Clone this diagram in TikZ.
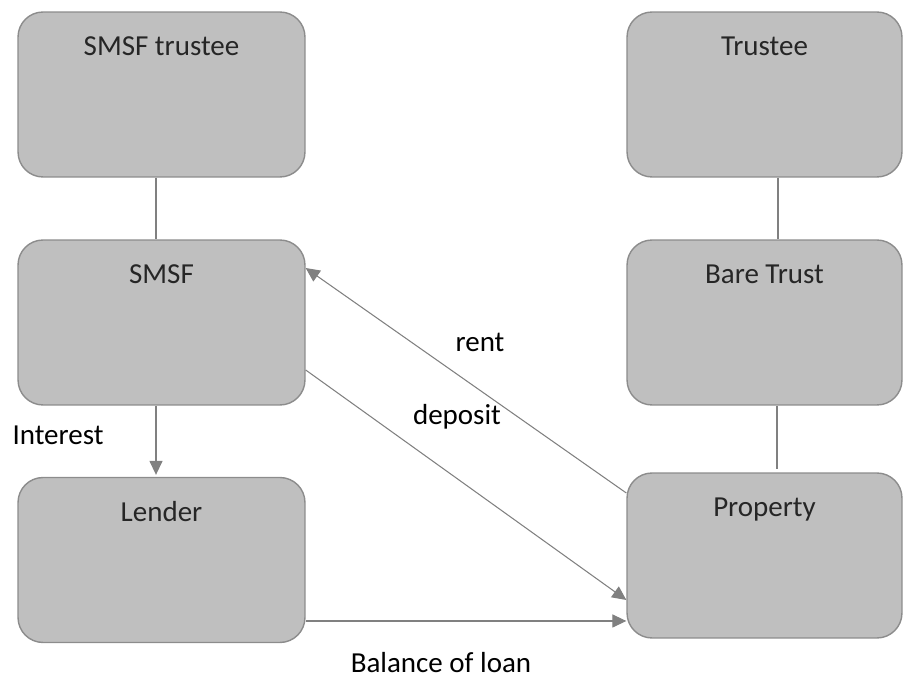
\documentclass[tikz,border=0pt]{standalone}
\usepackage{fontspec}
\setmainfont{Carlito}
\usetikzlibrary{arrows.meta}
\definecolor{boxfill}{RGB}{191,191,191}
\definecolor{boxline}{RGB}{140,140,140}
\definecolor{linkgray}{RGB}{128,128,128}
\begin{document}
\begin{tikzpicture}[x=0.02cm, y=-0.02cm,
  font=\fontsize{16.5}{19}\selectfont,
  box/.style={draw=boxline, line width=0.8pt, fill=boxfill, rounded corners=0.5cm,
    minimum width=5.74cm, minimum height=3.3cm,
    label={[anchor=base, yshift=-0.89cm, text=black!85]north:#1}},
  rbox/.style={box=#1, minimum width=5.5cm},
  link/.style={draw=linkgray, line width=0.6pt},
  flow/.style={link, -{Triangle[length=8pt, width=7.5pt]}}]
\useasboundingbox (0,0) rectangle (903,678);
% left column
\node[box=SMSF trustee] (smsftrustee) at (161.5,94.5) {};
\node[box=SMSF] (smsf) at (161.5,322.5) {};
\node[box=Lender] (lender) at (161.5,560) {};
% right column
\node[rbox=Trustee] (trustee) at (764.5,94.5) {};
\node[rbox=Bare Trust] (baretrust) at (764.5,322.5) {};
\node[rbox=Property] (property) at (764.5,555.5) {};
% links
\draw[link] ([xshift=-0.11cm]smsftrustee.south) -- ([xshift=-0.11cm]smsf.north);
\draw[link] ([xshift=0.27cm]trustee.south) -- ([xshift=0.27cm]baretrust.north);
\draw[link] ([xshift=0.25cm]baretrust.south) -- ([xshift=0.25cm,yshift=0.06cm]property.north);
\draw[flow] ([xshift=-0.11cm]smsf.south) -- ([xshift=-0.11cm,yshift=0.04cm]lender.north);
\draw[flow] ([yshift=-0.95cm]smsf.east) -- ([yshift=-0.89cm]property.west);
\draw[flow] ([yshift=1.25cm]property.west) -- ([yshift=1.09cm]smsf.east);
\draw[flow] ([yshift=-1.22cm]lender.east) -- ([yshift=-1.22cm]lender.east -| property.west);
% labels
\node (interest) at (58,435) {Interest};
\node (rent) at (480,342) {rent};
\node (deposit) at (457,417) {deposit};
\node (balance) at (441,663) {Balance of loan};
\end{tikzpicture}
\end{document}
